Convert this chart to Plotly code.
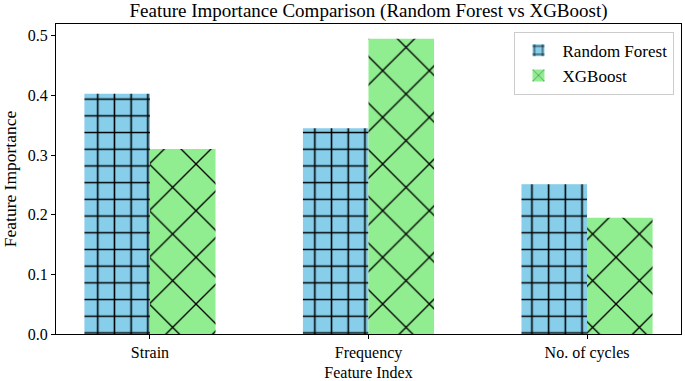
import plotly.graph_objects as go

features = ["Strain", "Frequency", "No. of cycles"]
rf_importance = [0.403, 0.345, 0.251]
xgb_importance = [0.310, 0.495, 0.195]

FONT = '"Liberation Serif", "Times New Roman", serif'

fig = go.Figure()
fig.add_trace(go.Bar(
    x=features, y=rf_importance, name="Random Forest",
    marker=dict(color="#87CEEB", line=dict(width=0),
                pattern=dict(shape="+", fillmode="overlay", fgcolor="black", fgopacity=1,
                             size=16.7, solidity=0.18)),
))
fig.add_trace(go.Bar(
    x=features, y=xgb_importance, name="XGBoost",
    marker=dict(color="#90EE90", line=dict(width=0),
                pattern=dict(shape="x", fillmode="overlay", fgcolor="black", fgopacity=1,
                             size=33, solidity=0.08)),
))

fig.update_layout(
    width=685, height=381,
    margin=dict(l=56, r=4, t=24, b=47),
    paper_bgcolor="white", plot_bgcolor="white",
    barmode="group", bargap=0.4, bargroupgap=0,
    font=dict(family=FONT, size=16, color="black"),
    title=dict(text="Feature Importance Comparison (Random Forest vs XGBoost)",
               x=0.5, xref="paper", xanchor="center", y=0.99, yanchor="top",
               font=dict(family=FONT, size=19, color="black")),
    legend=dict(x=0.988, y=0.975, xanchor="right", yanchor="top",
                bordercolor="#cccccc", borderwidth=1, bgcolor="rgba(255,255,255,0.8)",
                itemwidth=38, font=dict(family=FONT, size=17)),
    showlegend=True,
)
fig.update_xaxes(
    range=[-0.43, 2.43], showline=True, linecolor="black", linewidth=1, mirror=True,
    ticks="outside", ticklen=4, tickcolor="black", showgrid=False, automargin=False,
    title=dict(text="Feature Index", font=dict(family=FONT, size=16), standoff=8),
)
fig.update_yaxes(
    range=[0, 0.5198], showline=True, linecolor="black", linewidth=1, mirror=True,
    ticks="outside", ticklen=4, tickcolor="black", showgrid=False, zeroline=False,
    tickvals=[0, 0.1, 0.2, 0.3, 0.4, 0.5], tickformat=".1f", automargin=False,
    title=dict(text="Feature Importance", font=dict(family=FONT, size=17.5), standoff=6),
)

fig.write_html("out.html", config={"displayModeBar": False},
               post_script="document.body.style.margin='0';")
